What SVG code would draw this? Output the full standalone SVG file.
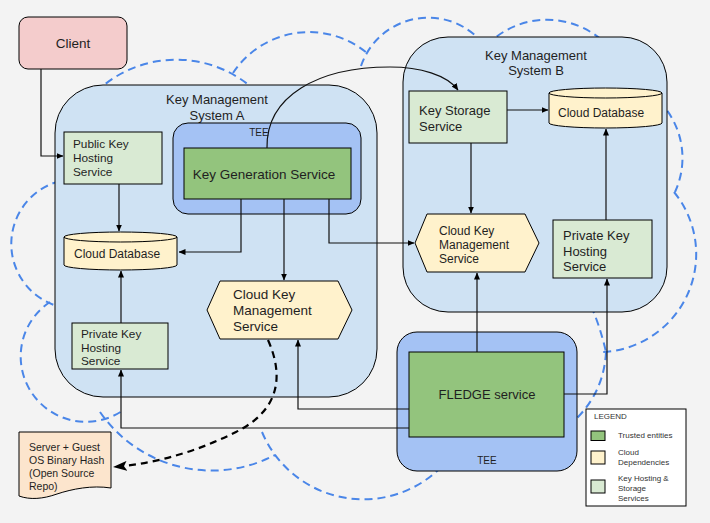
<svg xmlns="http://www.w3.org/2000/svg" width="710" height="523" viewBox="0 0 710 523">
<defs>
<marker id="arr" markerWidth="7" markerHeight="6" refX="6.5" refY="3" orient="auto" markerUnits="userSpaceOnUse"><path d="M0,0 L7,3 L0,6 z" fill="#000"/></marker>
<marker id="arrBig" markerWidth="14" markerHeight="10" refX="13" refY="5" orient="auto" markerUnits="userSpaceOnUse"><path d="M0,0 L14,5 L0,10 L3,5 z" fill="#000"/></marker>
<style>
text{font-family:"Liberation Sans",Arial,sans-serif;fill:#1f1f1f}
.cloud{fill:none;stroke:#4a86e8;stroke-width:2;stroke-dasharray:8 5}
.kms{fill:#cfe2f3;stroke:#000;stroke-width:1}
.tee{fill:#a4c2f4;stroke:#000;stroke-width:1}
.trusted{fill:#93c47d;stroke:#000;stroke-width:1}
.host{fill:#d9ead3;stroke:#000;stroke-width:1}
.dep{fill:#fff2cc;stroke:#000;stroke-width:1}
.conn{fill:none;stroke:#111;stroke-width:1.2;marker-end:url(#arr)}
.line{fill:none;stroke:#111;stroke-width:1.2}
.lg{font-size:8px;fill:#333}
</style>
</defs>
<rect width="710" height="523" fill="#f3f3f3"/>

<g id="cloud">
<path class="cloud" d="M96,92 A116,116 0 0 1 250,86"/>
<path class="cloud" d="M233,73 A91,91 0 0 1 367,53"/>
<path class="cloud" d="M361,66 A71,71 0 0 1 480,40"/>
<path class="cloud" d="M487,45 A84,84 0 0 1 605,43"/>
<path class="cloud" d="M659,101 A81,81 0 0 1 675,192"/>
<path class="cloud" d="M674,192 A98,98 0 0 1 603,352"/>
<path class="cloud" d="M591,306 Q600,326 606,352"/>
<path class="cloud" d="M606,352 Q604,392 575,420"/>
<path class="cloud" d="M262,432 A110,110 0 0 0 446,462"/>
<path class="cloud" d="M100,412 A136,136 0 0 0 275,455"/>
<path class="cloud" d="M50,302 A63,63 0 0 0 122,411"/>
<path class="cloud" d="M60,181 A65,65 0 0 0 57,306"/>
</g>

<g id="kms-a">
<rect class="kms" x="55" y="85" width="322" height="312" rx="48"/>
<text x="217" y="104" font-size="13" text-anchor="middle">Key Management</text>
<text x="217" y="120" font-size="13" text-anchor="middle">System A</text>
</g>

<g id="kms-b">
<rect class="kms" x="403" y="37" width="264" height="275" rx="45"/>
<text x="536" y="60" font-size="13" text-anchor="middle">Key Management</text>
<text x="536" y="75" font-size="13" text-anchor="middle">System B</text>
</g>

<g id="client">
<rect x="19" y="17" width="108" height="52" rx="9" fill="#f4cccc" stroke="#000"/>
<text x="73" y="48" font-size="13.5" text-anchor="middle">Client</text>
</g>

<g id="tee-a">
<rect class="tee" x="173" y="123" width="188" height="91" rx="15"/>
<text x="259" y="136" font-size="10" text-anchor="middle">TEE</text>
</g>

<g id="key-generation">
<rect class="trusted" x="184" y="148" width="167" height="51"/>
<text x="264" y="179" font-size="13.5" text-anchor="middle">Key Generation Service</text>
</g>

<g id="public-key-hosting">
<rect class="host" x="64" y="132" width="98" height="52"/>
<text font-size="11.8"><tspan x="73" y="148">Public Key</tspan><tspan x="73" y="162">Hosting</tspan><tspan x="73" y="176">Service</tspan></text>
</g>

<g id="cloud-db-a">
<path class="dep" d="M64,237 A56.5,5 0 0 1 177,237 V265 A56.5,5 0 0 1 64,265 Z"/>
<path fill="none" stroke="#000" d="M64,237 A56.5,5 0 0 0 177,237"/>
<text x="74" y="258" font-size="12">Cloud Database</text>
</g>

<g id="cloud-kms-a">
<polygon class="dep" points="207,310 220,281 338,281 352,310 338,339 220,339"/>
<text font-size="13.5"><tspan x="233" y="299">Cloud Key</tspan><tspan x="233" y="315">Management</tspan><tspan x="233" y="331">Service</tspan></text>
</g>

<g id="private-key-hosting-a">
<rect class="host" x="72" y="323" width="96" height="46"/>
<text font-size="11.8"><tspan x="81" y="338">Private Key</tspan><tspan x="81" y="352">Hosting</tspan><tspan x="81" y="365">Service</tspan></text>
</g>

<g id="key-storage">
<rect class="host" x="409" y="91" width="98" height="52"/>
<text font-size="13"><tspan x="419" y="115">Key Storage</tspan><tspan x="419" y="131">Service</tspan></text>
</g>

<g id="cloud-db-b">
<path class="dep" d="M549,93 A56.5,5 0 0 1 662,93 V123 A56.5,5 0 0 1 549,123 Z"/>
<path fill="none" stroke="#000" d="M549,93 A56.5,5 0 0 0 662,93"/>
<text x="558" y="117" font-size="12">Cloud Database</text>
</g>

<g id="cloud-kms-b">
<polygon class="dep" points="415,243 427,214 525,214 539,243 525,272 427,272"/>
<text font-size="12"><tspan x="439" y="235">Cloud Key</tspan><tspan x="439" y="249">Management</tspan><tspan x="439" y="263">Service</tspan></text>
</g>

<g id="private-key-hosting-b">
<rect class="host" x="553" y="220" width="99" height="58"/>
<text font-size="13"><tspan x="563" y="240">Private Key</tspan><tspan x="563" y="256">Hosting</tspan><tspan x="563" y="271">Service</tspan></text>
</g>

<g id="tee-fledge">
<rect class="tee" x="397" y="332" width="180" height="139" rx="20"/>
<text x="487" y="464" font-size="10" text-anchor="middle">TEE</text>
</g>

<g id="fledge">
<rect class="trusted" x="409" y="352" width="155" height="85"/>
<text x="487" y="399" font-size="13" text-anchor="middle">FLEDGE service</text>
</g>

<g id="binary-hash">
<path d="M19,432 H111 V488 C92,485 72,489 57,494 C43,499 30,500 19,496 Z" fill="#fce5cd" stroke="#000"/>
<text font-size="10.5"><tspan x="29" y="451">Server + Guest</tspan><tspan x="29" y="464">OS Binary Hash</tspan><tspan x="29" y="477">(Open Source</tspan><tspan x="29" y="490">Repo)</tspan></text>
</g>

<g id="legend">
<rect x="586" y="409" width="100" height="97" fill="#fff" stroke="#000"/>
<text class="lg" x="594" y="419">LEGEND</text>
<rect x="591" y="431" width="14" height="9.5" class="trusted"/>
<text class="lg" x="618" y="438">Trusted entities</text>
<rect x="591" y="451" width="14" height="13" class="dep"/>
<text class="lg"><tspan x="618" y="455">Cloud</tspan><tspan x="618" y="465">Dependencies</tspan></text>
<rect x="591" y="480" width="14" height="13" class="host"/>
<text class="lg"><tspan x="618" y="481">Key Hosting &amp;</tspan><tspan x="618" y="491">Storage</tspan><tspan x="618" y="501">Services</tspan></text>
</g>

<g id="connectors">
<path class="conn" d="M41,69 V156 H63"/>
<path class="conn" d="M119,184 V231"/>
<path class="conn" d="M241,199 V252 H179"/>
<path class="conn" d="M284,199 V280"/>
<path class="conn" d="M329,199 V243 H414"/>
<path class="conn" d="M267,148 C266,96 318,67 390,67 C420,67 447,75 458,90"/>
<path class="conn" d="M121,323 V271"/>
<path class="conn" d="M507,110 H548"/>
<path class="conn" d="M471,143 V213"/>
<path class="conn" d="M606,220 V129"/>
<path class="conn" d="M477,352 V273"/>
<path class="conn" d="M564,394 H607 V279"/>
<path class="conn" d="M409,409 H298 V340"/>
<path class="conn" d="M409,428 H121 V370"/>
<path fill="none" stroke="#000" stroke-width="2.2" stroke-dasharray="7 5" marker-end="url(#arrBig)" d="M268,340 C284,376 280,410 236,432 C200,450 160,463 114,467"/>
</g>
</svg>
